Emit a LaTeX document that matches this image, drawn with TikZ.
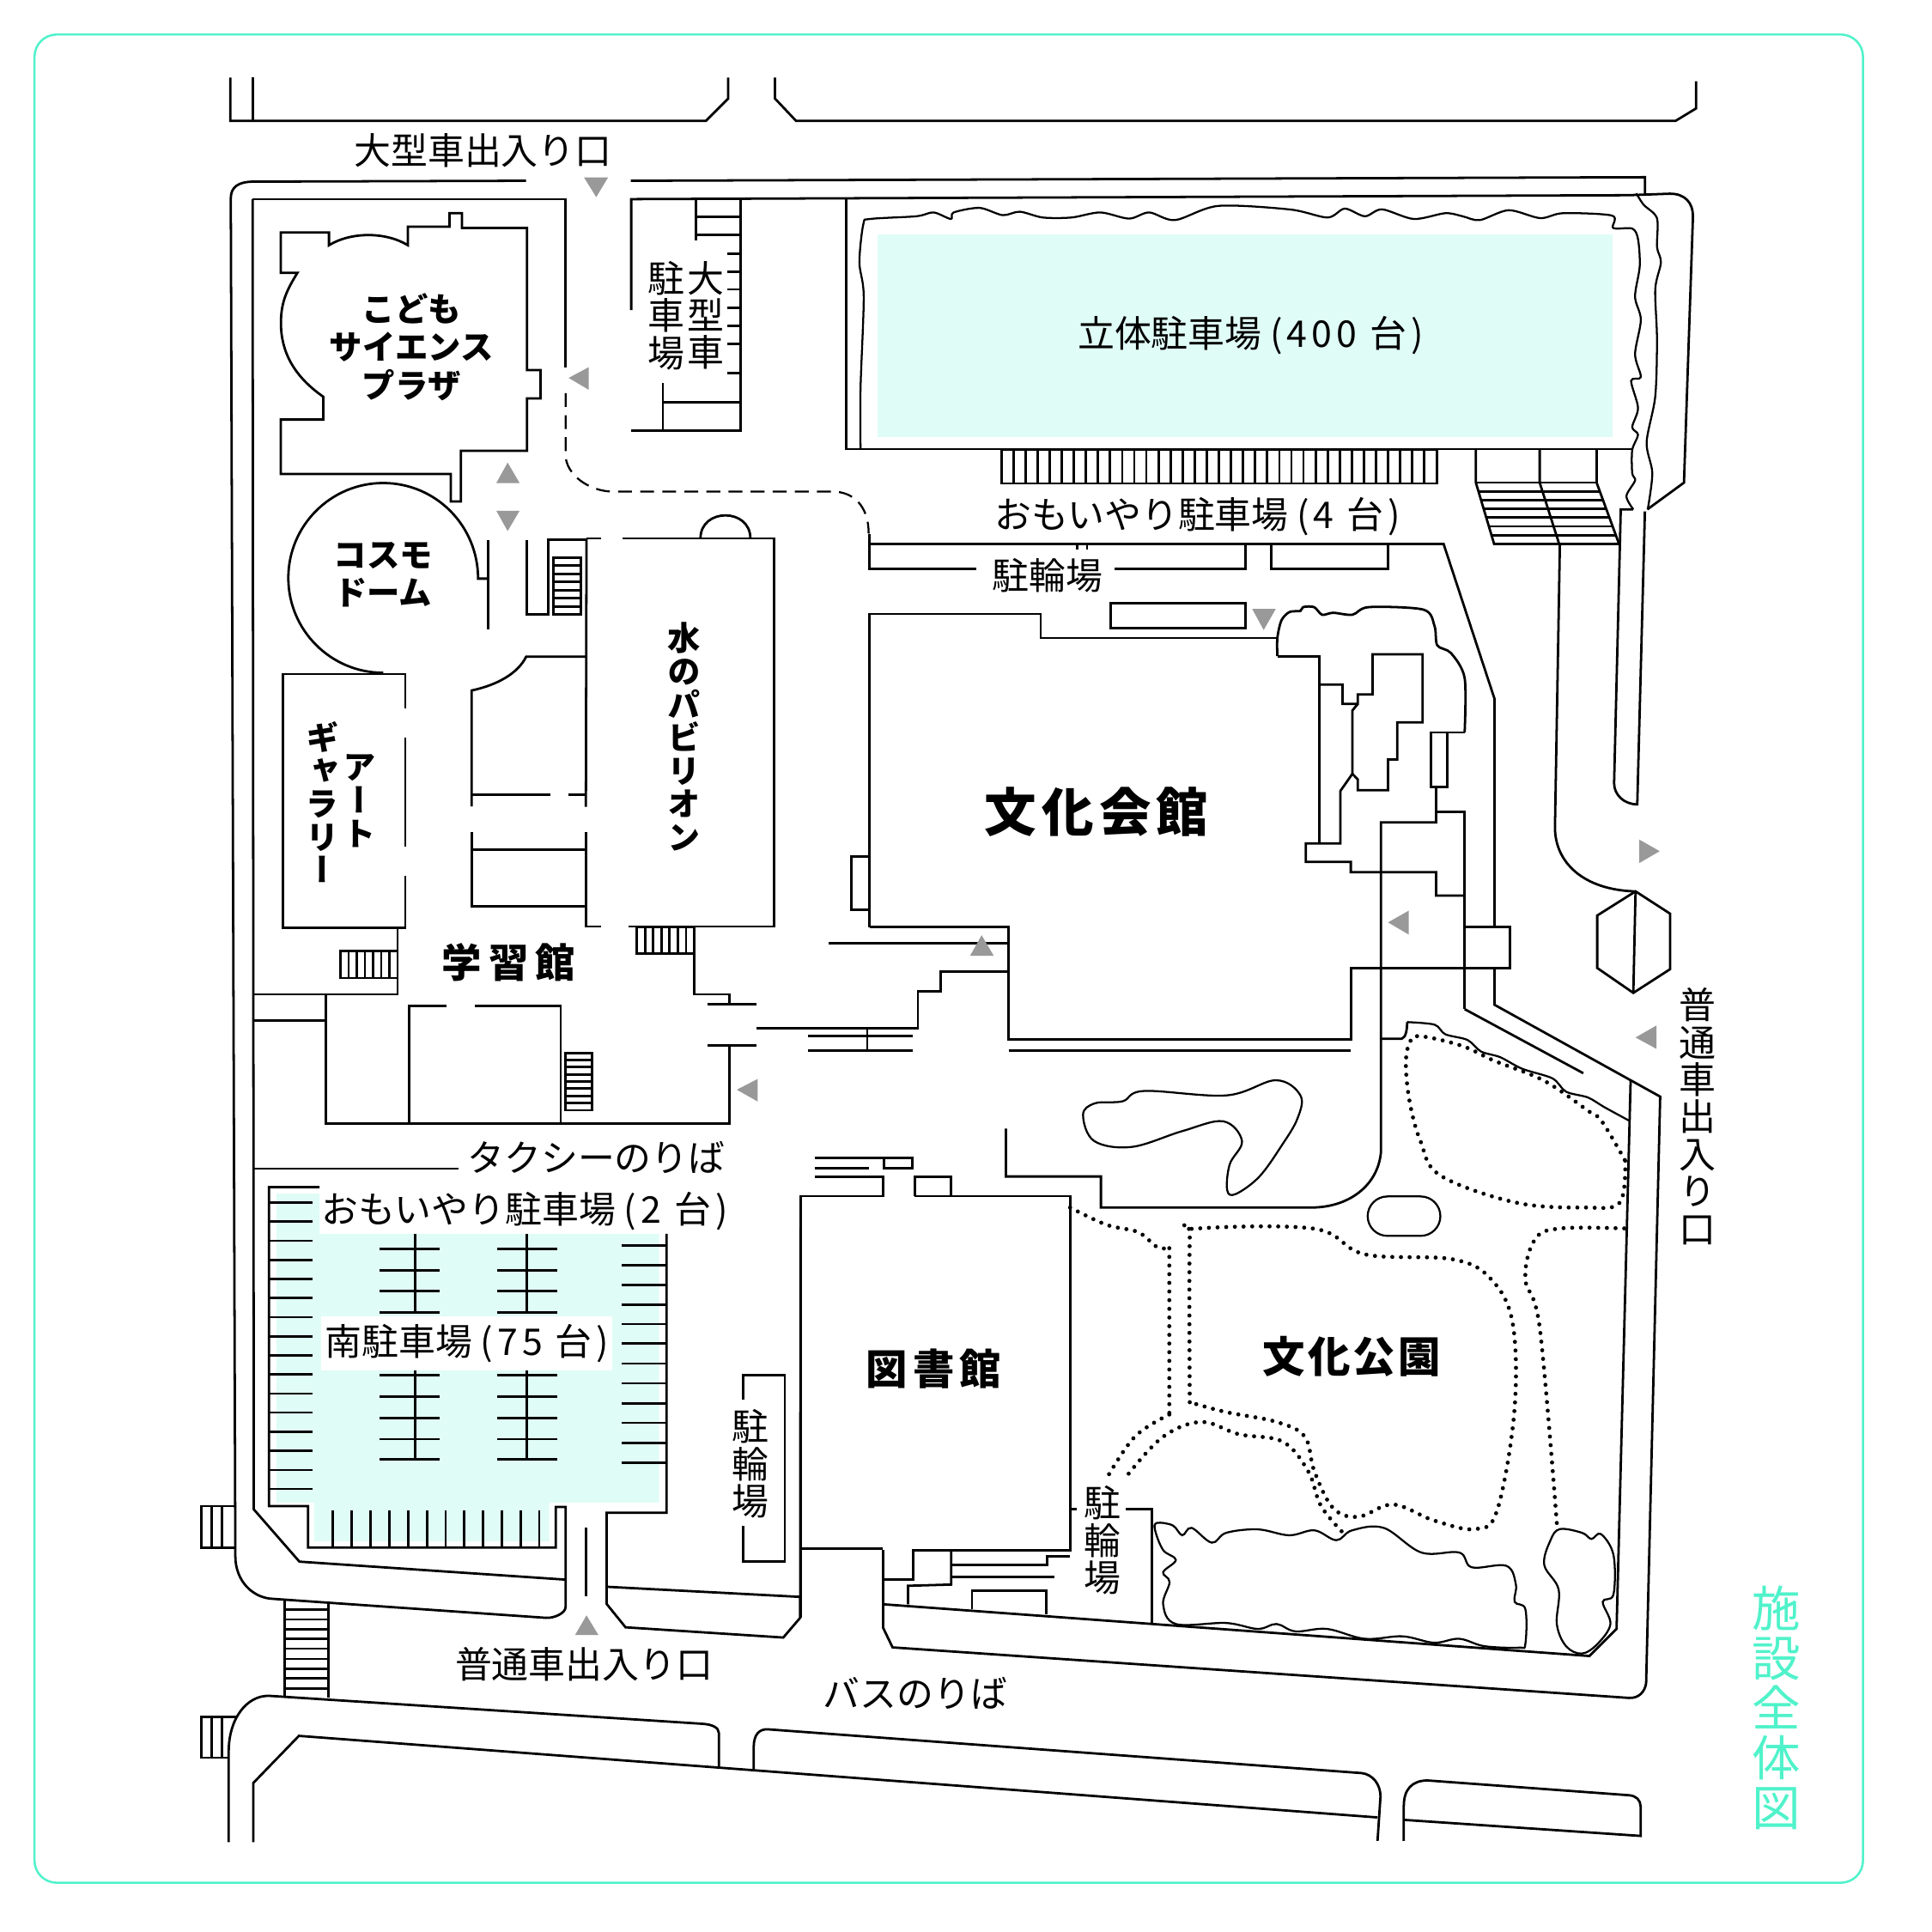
\documentclass[tikz,border=0pt]{standalone}
\usepackage{fontspec}
\newfontfamily\jp{Noto Sans CJK JP}
\newfontfamily\jpw[LetterSpace=12]{Noto Sans CJK JP}
\newfontfamily\jpv[RawFeature=+vert]{Noto Sans CJK JP}
\definecolor{mintline}{HTML}{50F2CA}
\definecolor{mintfill}{HTML}{E0FCF6}
\definecolor{arrowgray}{HTML}{999999}
\tikzset{
  lbl/.style={inner sep=0pt,font=\jp\fontsize{8.5}{9}\selectfont},
  lblbold/.style={inner sep=0pt,align=center,font=\jp\bfseries\fontsize{7.6}{8.8}\selectfont},
  vlbl/.style={inner sep=0pt,align=center,font=\jpv\fontsize{8.5}{8.6}\selectfont},
  vlblbold/.style={inner sep=0pt,align=center,font=\jpv\bfseries\fontsize{7.6}{7.65}\selectfont},
  dots/.style={line width=0.95pt,line cap=round,dash pattern=on 0pt off 2pt},
  wavy/.style={line width=0.45pt},
}
\begin{document}
\begin{tikzpicture}[x=0.01cm,y=-0.01cm,line width=0.55pt]
  \useasboundingbox (0,0) rectangle (1568,1568);
  \draw[mintline,line width=0.5pt,rounded corners=0.18cm] (28,28) rectangle (1512,1528);
  \fill[mintfill] (712,190) rectangle (1309,355);
  \fill[mintfill] (224.3,968.8) -- (259.3,968.8) -- (259.3,1001.3) -- (535,1001.3) -- (535,1219.4) -- (445.7,1219.4) -- (445.7,1250.8) -- (255,1250.8) -- (255,1219.4) -- (224.3,1219.4) -- cycle;

  \draw (187,63) -- (187,98) -- (573,98) -- (591,80) -- (591,63);
  \draw (205,63) -- (205,98);
  \draw (629,63) -- (629,80) -- (646,98) -- (1360,98) -- (1376.5,88) -- (1376.5,66);

  \draw (427,146.7) -- (206,147.4) .. controls (193,147.4) and (187.3,152) .. (187.3,161) -- (191,1263) .. controls (191,1283) and (205,1297) .. (221.6,1297.6) -- (443,1313) .. controls (450,1313.5) and (459,1309) .. (459,1304.4) -- (459,1223) -- (451,1223) -- (451,1256) -- (250,1256) -- (250,1222.4) -- (218.3,1222.4) -- (218.3,963.5) -- (259.3,963.5);
  \draw (205,161.6) -- (459,161.6) -- (459,298);
  \draw (205,161.6) -- (206,1225) -- (243,1267.4) -- (459,1282);
  \draw[dash pattern=on 3.2pt off 1.9pt,line width=0.45pt] (459,319) -- (459,369) .. controls (459,385) and (478,399) .. (498,399) -- (676,399) .. controls (692,399) and (705,410) .. (705,433);
  \draw (512,146.7) -- (1335,143.8) -- (1335,157.5);
  \draw (512.3,251.6) -- (512.3,161.6) -- (1322,158.4) -- (1355,157.2) .. controls (1368,157) and (1374,165) .. (1374,175.5) -- (1366.7,391.7) -- (1337,413.4);

  \draw (227.9,188.7) -- (267,188.7) -- (267,199) .. controls (285,188) and (313,188) .. (331,199) -- (331,184) -- (364.8,184) -- (364.8,173) -- (375,173) -- (375,185) -- (427.7,185) -- (427.7,300.3) -- (438.7,300.3) -- (438.7,323.4) -- (427.7,323.4) -- (427.7,365.8) -- (374,365.8) -- (374,407) -- (365.8,407) -- (365.8,384.6) -- (227.9,384.6) -- (227.9,340.5) -- (262.4,340.5) -- (262.4,322) .. controls (238,305) and (228,285) .. (228,262) .. controls (228,245) and (233,235) .. (241.4,221.4) -- (227.9,221.4) -- cycle;
  \draw (396,469.6) -- (388,469.6) .. controls (388,426.5) and (353.5,392) .. (311,392) .. controls (268.5,392) and (234,426.5) .. (234,469) .. controls (234,511.5) and (268.5,546) .. (311,546);
  \draw (396,438) -- (396,510.5);
  \draw (427.7,438) -- (427.7,498.8) -- (445,498.8) -- (445,438) -- (476,438);
  \draw (449,452.5) rectangle (471.4,498.8);
  \foreach \i in {1,...,6} \draw (449,452.5+6.61*\i) -- (471.4,452.5+6.61*\i);

  \draw (564.6,161.6) -- (564.6,195.4);
  \draw (564.6,176) -- (601,176);
  \draw (564.6,190.4) -- (601,190.4);
  \draw (601,161.6) -- (601,349.4) -- (512.3,349.4);
  \foreach \y in {205.7,220.3,234.9,249.9,264.4,279,302.8} \draw (590.6,\y) -- (601,\y);
  \draw (538,311) -- (538,349.4);
  \draw (538,326.3) -- (601,326.3);

  \draw (686.6,161.6) -- (686.6,364.4) -- (1324.7,364.4);
  \draw[wavy] plot[smooth,tension=0.5] coordinates {(698.4,363.7) (698.4,315.5) (701,240.8) (697.5,212.9) (700.7,181.8) (706.3,177.7) (743.7,175.5) (757.7,172.4) (771.7,177.7) (774,172.4) (795,168.7) (813.7,174.6) (827.7,171.8) (846.3,176.5) (869.7,176.5) (893,172.4) (916.3,177.4) (932.7,172.4) (953.7,178.6) (988.7,167.1) (1047,170) (1077.4,176.5) (1091.4,169.3) (1107.7,175.5) (1121.7,169.9) (1147.4,177.7) (1173,173) (1187,175.5) (1201,178.6) (1224.4,170.6) (1250,177) (1268.7,173) (1308.4,175) (1309.3,185) (1324.7,185.5) (1329.4,194) (1330.8,216) (1327,240.8) (1331.7,259.5) (1327,287.5) (1331.7,306) (1323.8,309) (1329.4,331) (1324.7,346.6) (1329.4,352.8) (1324.7,365.2) (1324.7,384) (1327,390) (1320,402.6) (1325.6,413.4)};
  \draw[wavy] plot[smooth,tension=0.5] coordinates {(1328,156.9) (1334,166.2) (1344.8,177.1) (1344.8,200.4) (1348,212.9) (1343.4,234.6) (1344.8,275) (1343.4,321.7) (1336.4,359) (1341,384) (1337.3,413.4)};
  \draw (812.7,364.6) rectangle (1166,392.3);
  \foreach \i in {1,...,35} \draw (812.7+9.81*\i,364.6) -- (812.7+9.81*\i,392.3);
  \draw (1197.8,364.6) -- (1197.8,391.7) -- (1212.6,441.4) -- (1314,441.4) -- (1295.8,391.7) -- (1295.8,364.6);
  \draw (1249.6,364.6) -- (1249.6,391.7) -- (1265.4,441.4);
  \draw (1197.8,391.7) -- (1295.8,391.7);
  \foreach \xa/\xb/\y in {1199.9/1298.4/398.8,1202/1301/405.9,1204.1/1303.6/413,1206.3/1306.2/420.1,1208.4/1308.8/427.2,1210.5/1311.4/434.3} \draw (\xa,\y) -- (\xb,\y);
  \draw (1266,441.4) -- (1262,671.5) .. controls (1262,700) and (1285,722) .. (1326.5,723.4);
  \draw (1325.6,413.4) -- (1315.4,413.4) -- (1310,635.7) .. controls (1310,645) and (1318,652.8) .. (1328.8,652.8) -- (1335,415);
  \draw (1327.4,723.4) -- (1355.4,741.5) -- (1355.4,786.6) -- (1325.6,805.8) -- (1296.3,785.6) -- (1296.3,743) -- cycle;
  \draw (1327.4,723.4) -- (1325.6,805.8);

  \draw (705.4,433.7) -- (705.4,461.6) -- (792.7,461.6);
  \draw (904.7,461.6) -- (1010.6,461.6) -- (1010.6,441.4);
  \draw (705.4,441.4) -- (1171.6,441.4) -- (1213,567.3) -- (1213,752.3);
  \draw (1032,441.4) -- (1032,461.6) -- (1126.4,461.6) -- (1126.4,441.4);
  \draw (874.3,441.4) -- (874.3,446);
  \draw (882.3,441.4) -- (882.3,446);
  \draw (901.4,489.6) rectangle (1010.6,509.9);

  \draw (705.6,752.3) -- (705.6,498.3) -- (844.7,498.3) -- (844.7,517.8) -- (1036.7,517.8);
  \draw (705.6,752.3) -- (818.5,752.3) -- (818.5,843.5) -- (1096.3,843.5) -- (1096.3,785.6) -- (1225.6,785.6) -- (1225.6,752.3) -- (1188.7,752.3);
  \draw (818.5,852.5) -- (1096.3,852.5);
  \draw (691,695) rectangle (705.6,738.3);
  \draw (672.7,765.4) -- (818.5,765.4);
  \draw (818.5,788.4) -- (763.3,788.4) -- (763.3,804.3) -- (745,804.3) -- (745,834.5) -- (614,834.5);
  \draw (656,841) -- (741,841);
  \draw (656,852.4) -- (741,852.4);
  \draw (703.8,834.5) -- (703.8,852.4);
  \draw (1213,786) -- (1213,815.5) -- (1347.4,890) -- (1336,1366) .. controls (1335,1373) and (1330,1378.5) .. (1322,1378) -- (724.4,1337) -- (716.7,1321) -- (716.7,1258);
  \draw (1188.7,819) -- (1285,871);
  \draw (1323.4,877.4) -- (1312,1322) -- (1290,1344) -- (716.7,1302);

  \draw plot[smooth,tension=0.5] coordinates {(1036.7,532.5) (1036.7,517.8) (1040,503.5) (1046.5,496.7) (1055.4,495.8) (1057.6,492.7) (1066.5,492.7) (1073,498.9) (1082,497.3) (1097.6,498.9) (1111,492.7) (1155.4,494.8) (1164.3,508.2) (1166.5,523.8) (1177.6,530) (1188.7,550.2) (1188.7,594.4)};
  \draw (1036.7,532.5) -- (1071,532.5) -- (1071,684.5);
  \draw (1188.7,594.4) -- (1161.2,594.4) -- (1161.2,638.8) -- (1174.5,638.8) -- (1174.5,594.4);
  \draw (1165.6,638.8) -- (1165.6,667.4) -- (1120.7,667.4) -- (1120.7,935.8) .. controls (1118,962) and (1095,980) .. (1064.2,980) -- (893.5,980) -- (893.5,954.8) -- (816.4,954.8) -- (816.4,916);
  \draw (1165.6,659) -- (1188.7,659) -- (1188.7,819);
  \draw (1071,555.5) -- (1089.6,555.5) -- (1089.6,571.3) -- (1102,571.3) -- (1102,563.6) -- (1114,563.6) -- (1114,531) -- (1154.5,531) -- (1154.5,586.3) -- (1134,586.3) -- (1134,616.4) -- (1126.5,616.4) -- (1126.5,641.3) -- (1102,641.3) -- (1102,632.6) -- (1097.6,628) -- (1097.6,576.6) -- (1102,571.3);
  \draw (1097.6,628) -- (1087.8,642) -- (1087.8,684.5) -- (1059.8,684.5) -- (1059.8,699.5) -- (1096.3,699.5) -- (1096.3,707.9) -- (1165.6,707.9) -- (1165.6,726.8) -- (1188.7,726.8);
  \draw (1120.7,843) -- (1137.6,843) .. controls (1141,842) and (1142,836) .. (1142,829.5);
  \draw[wavy] plot[smooth,tension=0.5] coordinates {(1142,829.5) (1164.3,831.6) (1173,839.4) (1191,844) (1202,853.4) (1217.6,858) (1235.4,867.4) (1260,875.2) (1271,886) (1288.8,890.7) (1302,898.5) (1322,909.4)};

  \draw[wavy] plot[smooth cycle,tension=0.6] coordinates {(879,904.7) (888.7,895.4) (911,893.8) (928.7,885.4) (995.4,889) (1035.4,876.7) (1055.4,889) (1053,907.8) (1040,930) (1022,955) (1003,969) (996,966) (998,945) (1008,926) (992.7,910) (959.5,918) (918.6,930.8) (888,926)};
  \draw[wavy,rounded corners=0.16cm] (1110,971) rectangle (1169,1003);

  \draw (229.5,753) rectangle (329,547);
  \fill[white] (326,575) rectangle (332,598.5);
  \fill[white] (326,687) rectangle (332,711);
  \draw (382.7,654.5) -- (382.7,560.4) .. controls (403,556) and (420,547) .. (427,533) -- (475.5,533);
  \draw (382.7,645) -- (447,645);
  \draw (461,645) -- (475.5,645);
  \draw (382.7,675) -- (382.7,735.6) -- (475.5,735.6);
  \draw (382.7,689.7) -- (475.5,689.7);
  \draw (476,437) -- (475.5,654.8);
  \draw (475.5,675) -- (475.5,752) -- (487.6,752);
  \draw (510,752) -- (628,752) -- (628,437) -- (505,437);
  \draw (476,437) -- (488,437);
  \draw (568.5,437) .. controls (568.5,412) and (609,412) .. (609,437);
  \draw (516.8,752.4) rectangle (563.4,773.7);
  \foreach \i in {1,...,6} \draw (516.8+6.66*\i,752.4) -- (516.8+6.66*\i,773.7);
  \draw (276.4,771.6) rectangle (322.6,793.7);
  \foreach \i in {1,...,6} \draw (276.4+6.6*\i,771.6) -- (276.4+6.6*\i,793.7);
  \draw (322.6,754) -- (322.6,807) -- (206,807);
  \draw (206,828) -- (264.4,828);
  \draw (264.4,807) -- (264.4,912) -- (591.8,912) -- (591.8,848.4);
  \draw (574,848.4) -- (614,848.4);
  \draw (574,815) -- (614,815);
  \draw (591.8,815) -- (591.8,807) -- (563.4,807) -- (563.4,752.4);
  \draw (332,912) -- (332,816.4) -- (362.4,816.4);
  \draw (385.6,816.4) -- (455,816.4) -- (455,912);
  \draw (459,854.5) rectangle (480.5,901);
  \foreach \i in {1,...,7} \draw (459,854.5+5.81*\i) -- (480.5,854.5+5.81*\i);
  \draw (206,948.4) -- (372,948.4);

  \foreach \y in {976,991.5,1007,1022.5,1038,1053.5,1069,1084.5,1100,1115.4,1131,1146.4,1162,1177.4,1193,1208.4} \draw (219,\y) -- (254,\y);
  \foreach \x in {270,285.3,300.7,316,331.3,346.7,361.7,376.7,392,407.4,422.7,437.7} \draw (\x,1225.8) -- (\x,1256);
  \foreach \x/\xa/\xb in {336.7/308/356.7,427.7/403.7/452.4} {
    \draw (\x,1001.3) -- (\x,1066.3);
    \draw (\x,1112.4) -- (\x,1184.6);
    \foreach \y in {1013.8,1030.8,1047.8,1065.2,1116.2,1133.6,1151,1168,1184.6} \draw (\xa,\y) -- (\xb,\y);
  }
  \foreach \y in {1010.7,1026.6,1042.9,1058.7,1074.6,1090.5,1106.7,1122.6,1138.9,1154.8,1171,1186.9} \draw (504.4,\y) -- (541,\y);
  \draw (541,1001.3) -- (541,1227.7) -- (492.4,1227.7) -- (492.4,1301.8) -- (507.7,1320.7) -- (635.7,1329) -- (649.4,1313) -- (649.8,970.8);
  \draw (475.7,1240) -- (475.7,1295.7);
  \draw (492.4,1287.8) -- (649.4,1296);
  \draw (603.4,1136) -- (603.4,1116.2) -- (637,1116.2) -- (637,1267.4) -- (603.4,1267.4) -- (603.4,1238.3);
  \draw (163.3,1222.4) rectangle (191,1256);
  \draw (171.6,1222.4) -- (171.6,1256);
  \draw (180,1222.4) -- (180,1256);
  \draw (192,1393.3) -- (163.3,1393.3) -- (163.3,1426.5) -- (185.6,1426.5);
  \draw (171.6,1393.3) -- (171.6,1426.5);
  \draw (180,1393.3) -- (180,1426.5);
  \draw (231,1298.8) -- (231,1377);
  \draw (266.3,1300.7) -- (266.3,1378);
  \foreach \y in {1306.3,1314.3,1322.2,1330,1338,1346.4,1354.3,1362.3,1370.3} \draw (231,\y) -- (266.3,\y);

  \draw (185.6,1495) -- (185.6,1421.6) .. controls (185.6,1395) and (200,1376) .. (218.3,1376.3) -- (570,1399) .. controls (578,1399.5) and (583.4,1402) .. (583.4,1406.5) -- (583.4,1435);
  \draw (205.6,1495) -- (205.6,1447) -- (242.6,1408.8) -- (1118,1475);
  \draw (611.7,1436) -- (611.7,1418) .. controls (611.7,1408) and (616,1403) .. (623.4,1403.5) -- (1105,1439) .. controls (1114,1440) and (1120.4,1448) .. (1120.4,1458) -- (1118,1494);
  \draw (1139.3,1494) -- (1139.3,1466) .. controls (1139.3,1452) and (1146,1445) .. (1158.7,1445) -- (1322.3,1457) .. controls (1328,1457.5) and (1331.5,1461) .. (1331.5,1466) -- (1331.5,1490) -- (1139.8,1477);

  \draw (649.8,1313) -- (649.8,970.8) -- (716.7,970.8) -- (716.7,954.8) -- (661,954.8);
  \draw (742.3,970.8) -- (742.3,954.8) -- (772,954.8) -- (772,970.8);
  \draw (742.3,970.8) -- (868.5,970.8) -- (868.5,1258) -- (741.3,1258) -- (741.3,1282) -- (716.7,1282);
  \draw (649.8,1257) -- (716.7,1257);
  \draw (661,940) -- (740.7,940) -- (740.7,948) -- (717.7,948) -- (717.7,940);
  \draw (661,948) -- (705,948);
  \draw (772,1258) -- (772,1286) -- (737,1287) -- (737,1302);
  \draw (772,1270) -- (849.6,1270) -- (849.6,1263) -- (868.5,1263);
  \draw (772,1280) -- (855.7,1280);
  \draw (788.8,1306) -- (788.8,1291) -- (849.1,1291) -- (849.1,1310);
  \draw (913.5,1225) -- (935,1225) -- (935,1317);
  \draw (868.5,1225) -- (874,1225);

  \draw[dots] plot[smooth,tension=0.6] coordinates {(868.5,980) (898,994) (923.7,1000) (939,1012) (949,1013)};
  \draw[dots] (949,1013) -- (949,1148);
  \draw[dots] plot[smooth,tension=0.6] coordinates {(949,1148) (921,1166) (898,1200)};
  \draw[dots] plot[smooth,tension=0.6] coordinates {(916,1196) (944,1166) (975,1154) (1005.5,1164) (1041,1170) (1061.7,1194) (1072,1222) (1090,1244)};
  \draw[dots] plot[smooth,tension=0.6] coordinates {(965.6,1138) (965.6,1006) (969.7,997.2) (1066.7,997.2) (1107.7,1018) (1179,1022) (1210,1038) (1227.7,1074) (1229,1146) (1215,1226) (1197,1241) (1163.8,1234) (1130.6,1221) (1102.5,1231) (1082,1224) (1066.7,1194) (1059,1166) (1036,1154) (995,1146) (965.6,1138)};
  \draw[dots] plot[smooth,tension=0.6] coordinates {(1263.5,1236) (1249.7,1078) (1238,1038) (1245.7,1006) (1266,997) (1319.7,997)};
  \draw[dots] plot[smooth,tension=0.6] coordinates {(1319,942) (1314.6,976) (1286.5,980) (1230.3,976) (1169,954) (1153,926.5) (1144.3,895.4) (1141,864) (1144.3,845.6) (1153,841) (1186.5,848.8) (1213,861) (1253,877) (1289,901.6) (1300,910) (1319,942)};
  \draw[wavy] plot[smooth cycle,tension=0.6] coordinates {(939,1236) (951.8,1238) (959.5,1246) (967.1,1240) (983.5,1252) (995.2,1244) (1020.8,1241.2) (1046.3,1246) (1066.8,1242) (1084.6,1250) (1097.4,1242) (1123,1240) (1153.6,1260) (1184.3,1260) (1194.5,1272) (1222.6,1270.8) (1230.3,1286) (1229.3,1300) (1238,1306) (1238,1334) (1232.8,1337.2) (1204.7,1336) (1184.3,1330) (1163.8,1333.2) (1138.3,1328) (1107.6,1330) (1077,1322) (1051.4,1324) (1036,1318) (1020.8,1322) (995.2,1317.2) (954.3,1318) (944,1302) (949.2,1284) (944,1276) (954.3,1266) (944,1258) (937.5,1242)};
  \draw[wavy] plot[smooth cycle,tension=0.6] coordinates {(1266,1241) (1284,1244) (1291.6,1249) (1299.3,1245) (1309.5,1262) (1309.5,1294) (1300.8,1300) (1307,1318) (1296.7,1334) (1283.9,1342) (1271,1336) (1263.5,1318) (1265,1290) (1253.3,1270) (1258.4,1250)};

  \fill[arrowgray] (474,144) -- (493.5,144) -- (483.9,160) -- cycle;
  \fill[arrowgray] (461.5,306.7) -- (477.8,298) -- (477.8,316.3) -- cycle;
  \fill[arrowgray] (412,375.4) -- (402.8,392) -- (421.7,392) -- cycle;
  \fill[arrowgray] (402.8,414.5) -- (421.7,414.5) -- (412,431) -- cycle;
  \fill[arrowgray] (598,884.4) -- (615,875.6) -- (615,894) -- cycle;
  \fill[arrowgray] (796.7,759) -- (787.3,775.7) -- (806.5,775.7) -- cycle;
  \fill[arrowgray] (1016.3,494.2) -- (1035.4,494.2) -- (1025.6,511.3) -- cycle;
  \fill[arrowgray] (1126.5,748.6) -- (1143.4,739) -- (1143.4,758.5) -- cycle;
  \fill[arrowgray] (1347,690.8) -- (1330.5,681.4) -- (1330.5,700.4) -- cycle;
  \fill[arrowgray] (1327.4,842) -- (1344.3,832.3) -- (1344.3,851.2) -- cycle;
  \fill[arrowgray] (476,1311) -- (466.7,1327) -- (485.7,1327) -- cycle;

  \node[lbl] (largegate) at (392,122) {大型車出入り口};
  \node[lblbold] (plaza) at (334,281.5) {こども\\サイエンス\\プラザ};
  \node[vlbl] (largepark) at (573,256) {大\\型\\車};
  \node[vlbl] (largepark2) at (541,256) {駐\\車\\場};
  \node[lbl] (tower) at (1015,272) {立体駐車場 {\jpw (400 台)}};
  \node[lbl] (care4) at (972,419) {おもいやり駐車場 {\jpw (4 台)}};
  \node[lbl] (bike1) at (850,467) {駐輪場};
  \node[lblbold] (dome) at (311,466.5) {コスモ\\ドーム};
  \node[vlblbold] (water) at (555,598) {水\\の\\パ\\ビ\\リ\\オ\\ン};
  \node[vlblbold] (art) at (292,650) {ア\\ー\\ト};
  \node[vlblbold] (gallery) at (262,651) {ギ\\ャ\\ラ\\リ\\ー};
  \node[inner sep=0pt,font=\jp\bfseries\fontsize{9.2}{10}\selectfont] (study) at (413,781) {学\kern1.6pt 習\kern1.6pt 館};
  \node[inner sep=0pt,font=\jp\bfseries\fontsize{12}{14}\selectfont] (hall) at (890,659) {文\kern1.2pt 化\kern1.2pt 会\kern1.2pt 館};
  \node[inner sep=0pt,font=\jp\bfseries\fontsize{9.6}{11}\selectfont] (library) at (758,1111) {図\kern1.2pt 書\kern1.2pt 館};
  \node[inner sep=0pt,font=\jp\bfseries\fontsize{9.8}{11}\selectfont] (park) at (1097,1101) {文\kern.6pt 化\kern.6pt 公\kern.6pt 園};
  \node[lbl] (taxi) at (484,939) {タクシーのりば};
  \node[lbl] (care2) at (426,983) {おもいやり駐車場 {\jpw (2 台)}};
  \node[lbl,fill=white,minimum width=2.36cm,minimum height=0.44cm] (south) at (379,1090) {\raisebox{-0.5pt}{南駐車場 {\jpw (75 台)}}};
  \node[lbl] (normalgate) at (474,1351) {普通車出入り口};
  \node[lbl] (bus) at (743,1374) {バスのりば};
  \node[vlbl] (bike2) at (609,1188) {駐\\輪\\場};
  \node[vlbl] (bike3) at (895,1250) {駐\\輪\\場};
  \node[vlbl] (normalgate2) at (1378,906) {普\\通\\車\\出\\入\\り\\口};
  \node[inner sep=0pt,align=center,text=mintline,font=\jpv\fontsize{11.2}{11.5}\selectfont] (title) at (1442,1386) {施\\設\\全\\体\\図};
\end{tikzpicture}
\end{document}
